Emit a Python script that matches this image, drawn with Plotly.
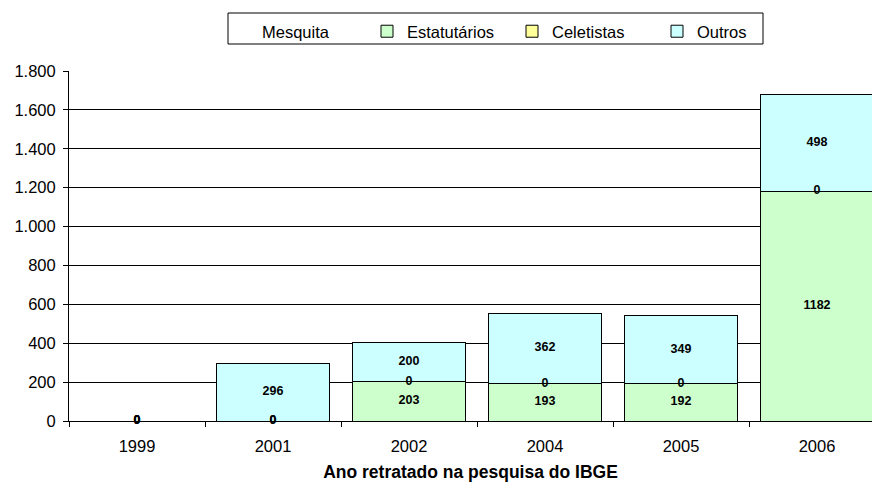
import plotly.graph_objects as go
import numpy as np

years = ["1999", "2001", "2002", "2004", "2005", "2006"]
estatutarios = [0, 0, 203, 193, 192, 1182]
celetistas = [0, 0, 0, 0, 0, 0]
outros = [0, 296, 200, 362, 349, 498]

series = [
    ("Estatutários", estatutarios, "#CCFFCC"),
    ("Celetistas", celetistas, "#FFFF99"),
    ("Outros", outros, "#CCFFFF"),
]

FONT = "Liberation Sans, Arial"
L, T, PW, PH = 69, 71, 803, 350


def px_x(p):
    return (p - L) / PW


def px_y(p):
    return (T + PH - p) / PH


fig = go.Figure()
# empty "Mesquita" entry (legend text only, no symbol)
fig.add_trace(go.Bar(
    x=years, y=[None] * len(years), name="Mesquita",
    marker=dict(color="rgba(0,0,0,0)", line=dict(width=0)),
))
for name, vals, col in series:
    fig.add_trace(go.Bar(
        x=years, y=vals, name=name,
        marker=dict(color=col, line=dict(color="black", width=1)),
    ))

# data labels at segment centres
base = np.zeros(len(years))
for name, vals, col in series:
    v = np.array(vals, dtype=float)
    mid = base + v / 2
    fig.add_trace(go.Scatter(
        x=years, y=mid, mode="text", text=[str(int(a)) for a in v],
        textfont=dict(family=FONT, size=12.5, color="black", weight="bold"),
        showlegend=False, hoverinfo="skip", cliponaxis=False,
    ))
    base = base + v

fig.update_layout(
    barmode="stack",
    bargap=0.17,
    width=872, height=482,
    margin=dict(l=L, r=0, t=T, b=482 - T - PH),
    paper_bgcolor="white", plot_bgcolor="white",
    separators=",.",
    font=dict(family=FONT, size=16, color="black"),
    legend=dict(
        orientation="h", x=px_x(222), y=px_y(14), xanchor="left", yanchor="top",
        borderwidth=0, bgcolor="rgba(0,0,0,0)",
        traceorder="normal",
        font=dict(size=16.5),
        itemwidth=30,
        entrywidth=100,
    ),
    shapes=[dict(
        type="rect", xref="paper", yref="paper",
        x0=px_x(228), x1=px_x(763), y0=px_y(44), y1=px_y(13),
        line=dict(color="black", width=1), fillcolor="white", layer="below",
    )],
    xaxis=dict(
        type="category",
        range=[-0.5, -0.5 + PW / 136],
        tickson="boundaries", ticks="outside", ticklen=5, tickcolor="black",
        showline=True, linecolor="black", showgrid=False,
        ticklabelstandoff=10,
        title=dict(text="<b>Ano retratado na pesquisa do IBGE</b>", font=dict(size=17.5), standoff=11),
        tickfont=dict(size=16.5),
    ),
    yaxis=dict(
        range=[0, 1800], dtick=200, tickformat=",d",
        ticks="outside", ticklen=5, tickcolor="black",
        showline=True, linecolor="black",
        showgrid=True, gridcolor="black", gridwidth=1,
        zeroline=False,
        ticklabelstandoff=4,
        tickfont=dict(size=16.5),
    ),
)

fig.write_html(
    "out.html",
    config={"displayModeBar": False},
    post_script="document.body.style.margin='0';document.body.style.overflow='hidden';",
)
